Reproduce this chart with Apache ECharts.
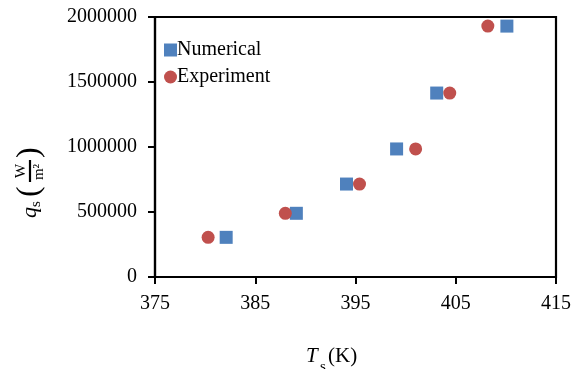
<!DOCTYPE html>
<html>
<head>
<meta charset="utf-8">
<script src="https://cdn.jsdelivr.net/npm/echarts@6/dist/echarts.min.js"></script>
<style>
html,body{margin:0;padding:0;background:#fff;}
#c{width:574px;height:369px;}
</style>
</head>
<body>
<div id="c"></div>
<script>
var numericalT = [382.1, 389.1, 394.1, 399.1, 403.1, 410.1];
var numericalQ = [305000, 490000, 715000, 985000, 1415000, 1930000];
var experimentT = [380.3, 388.0, 395.4, 401.0, 404.4, 408.2];
var experimentQ = [305000, 490000, 715000, 985000, 1415000, 1930000];
var seriesNames = ['Numerical', 'Experiment'];
var xTicks = {min: 375, max: 415, interval: 10};
var yTicks = {min: 0, max: 2000000, interval: 500000};

var FONT = 'Liberation Serif';
function pairs(xs, ys){ return xs.map(function(x,i){ return [x, ys[i]]; }); }

var chart = echarts.init(document.getElementById('c'), null, {renderer:'canvas'});
chart.setOption({
  animation: false,
  backgroundColor: '#fff',
  grid: {left: 155, right: 16.5, top: 17, bottom: 92, show: true, borderColor: '#000', borderWidth: 2.2, backgroundColor: 'transparent'},
  legend: {
    orient: 'vertical', left: 159, top: 35, itemWidth: 13, itemHeight: 13, itemGap: 7,
    data: [{name: seriesNames[0], icon: 'rect'}, {name: seriesNames[1], icon: 'circle'}],
    textStyle: {fontFamily: FONT, fontSize: 20, color: '#000', padding: [0,0,0,-5]}
  },
  xAxis: {
    type: 'value', min: xTicks.min, max: xTicks.max, interval: xTicks.interval,
    axisLine: {lineStyle: {color: '#000', width: 2.2}},
    axisTick: {show: true, length: 7, lineStyle: {color: '#000', width: 2}},
    splitLine: {show: false},
    axisLabel: {fontFamily: FONT, fontSize: 20, color: '#000', margin: 17}
  },
  yAxis: {
    type: 'value', min: yTicks.min, max: yTicks.max, interval: yTicks.interval,
    axisLine: {show: true, lineStyle: {color: '#000', width: 2.2}},
    axisTick: {show: true, length: 7, lineStyle: {color: '#000', width: 2}},
    splitLine: {show: false},
    axisLabel: {fontFamily: FONT, fontSize: 20, color: '#000', margin: 18, formatter: function(v){ return String(v); }}
  },
  series: [
    {name: seriesNames[0], type: 'scatter', symbol: 'rect', symbolSize: 13, itemStyle: {color: '#4F81BD', opacity: 1}, data: pairs(numericalT, numericalQ)},
    {name: seriesNames[1], type: 'scatter', symbol: 'circle', symbolSize: 13, itemStyle: {color: '#C0504D', opacity: 1}, data: pairs(experimentT, experimentQ)}
  ],
  graphic: [
    {type: 'text', left: 306, top: 346, style: {text: 'T', font: 'italic 21px ' + FONT, fill: '#000'}},
    {type: 'text', left: 320, top: 360, style: {text: 's', font: '15px ' + FONT, fill: '#000'}},
    {type: 'text', left: 328, top: 346, style: {text: '(K)', font: '21px ' + FONT, fill: '#000'}},
    {
      type: 'group', x: 30, y: 182, rotation: Math.PI / 2,
      children: [
        {type: 'text', x: -36, y: 0, style: {text: 'q', font: 'italic 22px ' + FONT, fill: '#000', verticalAlign: 'middle', align: 'left'}},
        {type: 'text', x: -25, y: 6, style: {text: 's', font: '15px ' + FONT, fill: '#000', verticalAlign: 'middle', align: 'left'}},
        {type: 'text', x: -15, y: 0, style: {text: '(', font: '32px ' + FONT, fill: '#000', verticalAlign: 'middle', align: 'left'}},
        {type: 'text', x: 11, y: -9, style: {text: 'W', font: '15px ' + FONT, fill: '#000', verticalAlign: 'middle', align: 'center'}},
        {type: 'line', shape: {x1: 0, y1: 0, x2: 22, y2: 0}, style: {stroke: '#000', lineWidth: 2.2}},
        {type: 'text', x: 10, y: 9, style: {text: 'm²', font: '15px ' + FONT, fill: '#000', verticalAlign: 'middle', align: 'center'}},
        {type: 'text', x: 24, y: 0, style: {text: ')', font: '32px ' + FONT, fill: '#000', verticalAlign: 'middle', align: 'left'}}
      ]
    }
  ]
});
</script>
</body>
</html>
